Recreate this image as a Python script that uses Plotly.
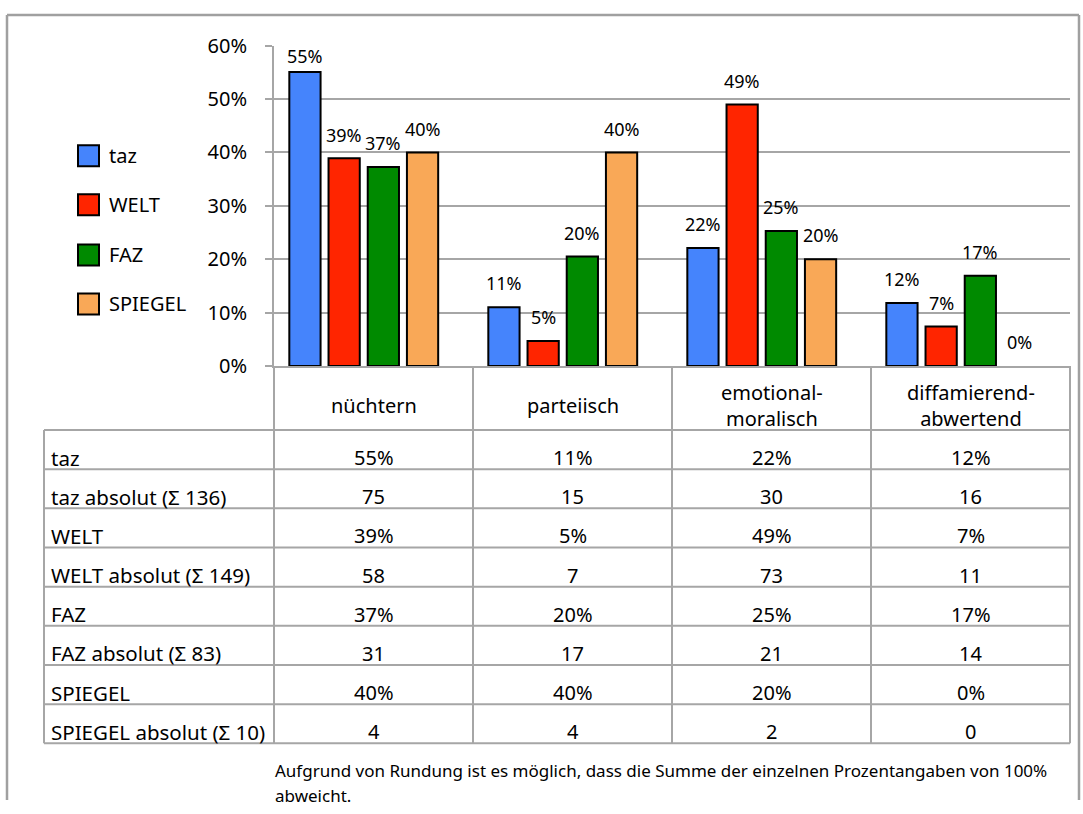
import plotly.graph_objects as go

# ---------------- data ----------------
categories = ["nüchtern", "parteiisch", "emotional-<br>moralisch", "diffamierend-<br>abwertend"]
series = ["taz", "WELT", "FAZ", "SPIEGEL"]
taz_pct = [55.1, 11.0, 22.1, 11.8]
welt_pct = [38.9, 4.7, 49.0, 7.4]
faz_pct = [37.3, 20.5, 25.3, 16.9]
spiegel_pct = [40.0, 40.0, 20.0, 0.0]
taz_abs = [75, 15, 30, 16]
welt_abs = [58, 7, 73, 11]
faz_abs = [31, 17, 21, 14]
spiegel_abs = [4, 4, 2, 0]
table_rows = ["taz", "taz absolut (Σ 136)", "WELT", "WELT absolut (Σ 149)",
              "FAZ", "FAZ absolut (Σ 83)", "SPIEGEL", "SPIEGEL absolut (Σ 10)"]
yticks = [0, 10, 20, 30, 40, 50, 60]
footnote = ["Aufgrund von Rundung ist es möglich, dass die Summe der einzelnen Prozentangaben von 100%",
            "abweicht."]

colors = ["#4584FC", "#FF2500", "#008A00", "#F9A857"]
pct_series = [taz_pct, welt_pct, faz_pct, spiegel_pct]
abs_series = [taz_abs, welt_abs, faz_abs, spiegel_abs]

# ---------------- geometry (reference pixels) ----------------
W, H = 1083, 814
PL, PR, PT, PB = 274, 1070, 46, 366
FONT = "Noto Sans"
GRID = "#A6A6A6"
VS, VOFF = 0.966, 14.3   # vertical compensation of the capture


def px(x):
    return x / W


def ty(y):
    """reference pixel row -> design pixel row (clamped to the figure)"""
    return min(max((y - VOFF) / VS, 1.0), H - 1.0)


def py(y):
    return 1 - ty(y) / H


fig = go.Figure()
x_idx = list(range(len(categories)))
offsets = [-0.423, -0.226, -0.029, 0.168]
bw = 0.157
for s, vals, col, off in zip(series, pct_series, colors, offsets):
    fig.add_trace(go.Bar(
        x=x_idx, y=vals, name=s, offset=off, width=bw,
        marker=dict(color=col, line=dict(color="black",
                                         width=[2 if v > 0 else 0 for v in vals])),
        showlegend=False, hoverinfo="skip",
    ))

annotations = []
# bar labels (centre ~23px above the bar top, kept inside the plot top)
ppu = (PB - PT) / 60.0
for vals, off in zip(pct_series, offsets):
    for i, v in enumerate(vals):
        top_px = PB - v * ppu
        shift = min(23.0, top_px - 57.0)
        annotations.append(dict(
            x=i + off + bw / 2, y=v, xref="x", yref="y",
            text=f"{round(v)}%", showarrow=False, yanchor="middle",
            yshift=shift / VS,
            font=dict(family=FONT, size=18, color="black"),
        ))

shapes = []
# legend (manual)
leg_y = [156, 205, 255, 304]
for s, col, ly in zip(series, colors, leg_y):
    shapes.append(dict(type="rect", xref="paper", yref="paper",
                       x0=px(78), x1=px(99), y0=py(ly - 10.5), y1=py(ly + 10.5),
                       fillcolor=col, line=dict(color="black", width=2)))
    annotations.append(dict(x=px(107), y=py(ly), xref="paper", yref="paper",
                            text=s, showarrow=False, xanchor="left", yanchor="middle",
                            font=dict(family=FONT, size=20, color="black")))

# table geometry
col_w = (PR - PL) / len(categories)
col_edges = [PL + k * col_w for k in range(len(categories) + 1)]
TL = 44
HEAD_B = 430
row_h = (743 - HEAD_B) / len(table_rows)
row_edges = [HEAD_B + k * row_h for k in range(len(table_rows) + 1)]

line = dict(color=GRID, width=2)
for xe in col_edges:
    shapes.append(dict(type="line", xref="paper", yref="paper",
                       x0=px(xe), x1=px(xe), y0=py(PB), y1=py(row_edges[-1]), line=line))
shapes.append(dict(type="line", xref="paper", yref="paper",
                   x0=px(TL), x1=px(TL), y0=py(HEAD_B), y1=py(row_edges[-1]), line=line))
for ye in row_edges:
    shapes.append(dict(type="line", xref="paper", yref="paper",
                       x0=px(TL), x1=px(PR), y0=py(ye), y1=py(ye), line=line))

for i, c in enumerate(categories):
    annotations.append(dict(x=i, y=py(405), xref="x", yref="paper", text=c,
                            showarrow=False, yanchor="middle",
                            font=dict(family=FONT, size=20, color="black")))

for r, label in enumerate(table_rows):
    yc = row_edges[r] + 27.5
    annotations.append(dict(x=px(TL + 5), y=py(yc), xref="paper", yref="paper",
                            text=label, showarrow=False, xanchor="left", yanchor="middle",
                            font=dict(family=FONT, size=20.5, color="black")))
    s_i = r // 2
    for i in range(len(categories)):
        if r % 2 == 0:
            txt = f"{round(pct_series[s_i][i])}%"
        else:
            txt = str(abs_series[s_i][i])
        annotations.append(dict(x=i, y=py(yc), xref="x", yref="paper", text=txt,
                                showarrow=False, yanchor="middle",
                                font=dict(family=FONT, size=20, color="black")))

foot_y = [770, 795]
for t, fy in zip(footnote, foot_y):
    annotations.append(dict(x=px(273), y=py(fy), xref="paper", yref="paper",
                            text=t, showarrow=False, xanchor="left", yanchor="middle",
                            font=dict(family=FONT, size=17, color="black")))

frame = dict(color="#A0A0A0", width=2.5)
shapes.append(dict(type="line", xref="paper", yref="paper", x0=px(7), x1=px(1079),
                   y0=py(8), y1=py(8), line=frame))
shapes.append(dict(type="line", xref="paper", yref="paper", x0=px(7), x1=px(7),
                   y0=py(8), y1=py(830), line=frame))
shapes.append(dict(type="line", xref="paper", yref="paper", x0=px(1079), x1=px(1079),
                   y0=py(8), y1=py(830), line=frame))

fig.update_layout(
    width=W, height=H,
    autosize=False,
    margin=dict(l=0, r=0, t=0, b=0, pad=0),
    paper_bgcolor="white", plot_bgcolor="white",
    barmode="overlay",
    showlegend=False,
    annotations=annotations,
    shapes=shapes,
    xaxis=dict(domain=[px(PL), px(PR)], range=[-0.5, len(categories) - 0.5],
               showticklabels=False, showgrid=False, zeroline=False,
               showline=True, linecolor=GRID, linewidth=2, fixedrange=True),
    yaxis=dict(domain=[py(PB), py(PT)], range=[0, 60],
               tickvals=yticks, ticktext=[f"{v}%" for v in yticks],
               showgrid=True, gridcolor=GRID, gridwidth=2,
               zeroline=False, showline=True, linecolor=GRID, linewidth=2,
               ticks="outside", ticklen=7, tickwidth=2, tickcolor=GRID,
               ticklabelstandoff=14,
               tickfont=dict(family=FONT, size=20, color="black"), fixedrange=True),
)

fig.write_html("out.html", config={"displayModeBar": False, "responsive": False},
               post_script="document.body.style.margin='0';document.body.style.overflow='hidden';")
